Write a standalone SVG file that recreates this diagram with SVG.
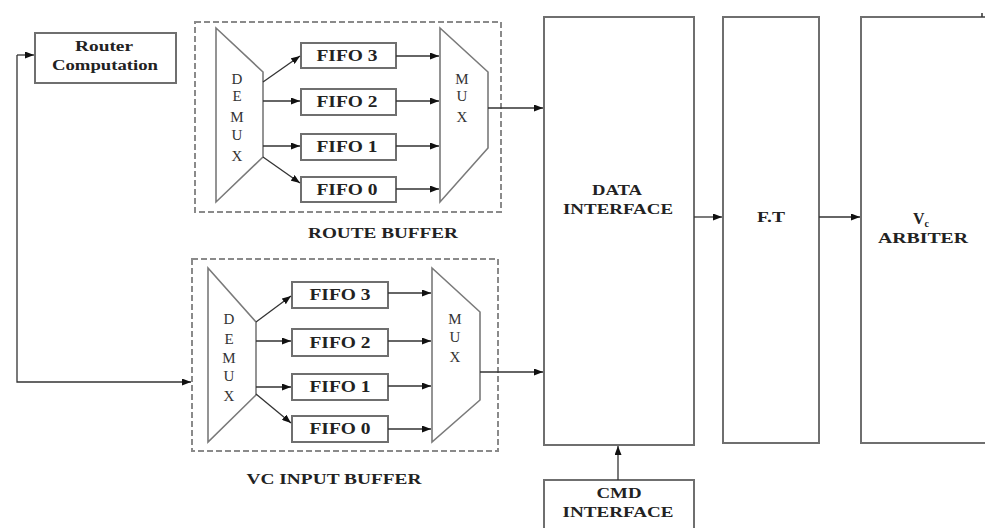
<svg xmlns="http://www.w3.org/2000/svg" width="985" height="528" viewBox="0 0 985 528">
<defs>
<marker id="ah" viewBox="0 0 10 10" refX="10" refY="5" markerWidth="9" markerHeight="7" markerUnits="userSpaceOnUse" orient="auto-start-reverse" preserveAspectRatio="none">
<path d="M0,0 L10,5 L0,10 z" fill="#111"/>
</marker>
<style>
.box{fill:#fff;stroke:#6f6f6f;stroke-width:2}
.dash{fill:none;stroke:#8a8a8a;stroke-width:2;stroke-dasharray:6,3}
.trap{fill:#fff;stroke:#7a7a7a;stroke-width:1.6}
.ca{fill:none;stroke:#333;stroke-width:1.3;marker-end:url(#ah)}
.t{font-family:"Liberation Serif","Times New Roman",serif;font-weight:bold;fill:#222;text-anchor:middle}
.l{font-family:"Liberation Serif","Times New Roman",serif;fill:#333;text-anchor:middle;font-size:15px}
</style>
</defs>
<rect width="985" height="528" fill="#fff"/>

<g id="router-computation">
<rect class="box" x="35" y="33" width="141" height="50"/>
<text class="t" x="104" y="51" font-size="14" textLength="58" lengthAdjust="spacingAndGlyphs">Router</text>
<text class="t" x="105" y="70" font-size="14" textLength="106" lengthAdjust="spacingAndGlyphs">Computation</text>
</g>

<g id="route-buffer">
<rect class="dash" x="195" y="22" width="306" height="190"/>
<text class="t" x="383" y="238" font-size="14" textLength="150" lengthAdjust="spacingAndGlyphs">ROUTE BUFFER</text>
</g>
<g id="route-demux">
<polygon class="trap" points="216,28 263,72 263,157 216,202"/>
<text class="l" x="237" y="84">D</text>
<text class="l" x="237" y="101">E</text>
<text class="l" x="237" y="122">M</text>
<text class="l" x="237" y="140">U</text>
<text class="l" x="237" y="161">X</text>
</g>
<g id="route-fifo3"><rect class="box" x="301" y="43" width="95" height="25"/><text class="t" x="347" y="61" font-size="16" textLength="61" lengthAdjust="spacingAndGlyphs">FIFO 3</text></g>
<g id="route-fifo2"><rect class="box" x="301" y="89" width="95" height="26"/><text class="t" x="347" y="107" font-size="16" textLength="61" lengthAdjust="spacingAndGlyphs">FIFO 2</text></g>
<g id="route-fifo1"><rect class="box" x="301" y="134" width="95" height="26"/><text class="t" x="347" y="152" font-size="16" textLength="61" lengthAdjust="spacingAndGlyphs">FIFO 1</text></g>
<g id="route-fifo0"><rect class="box" x="301" y="177" width="95" height="25"/><text class="t" x="347" y="195" font-size="16" textLength="61" lengthAdjust="spacingAndGlyphs">FIFO 0</text></g>
<g id="route-mux">
<polygon class="trap" points="440,28 488,72 488,148 440,202"/>
<text class="l" x="462" y="84">M</text>
<text class="l" x="462" y="101">U</text>
<text class="l" x="462" y="122">X</text>
</g>

<g id="vc-input-buffer">
<rect class="dash" x="192" y="259" width="306" height="192"/>
<text class="t" x="334" y="484" font-size="14" textLength="175" lengthAdjust="spacingAndGlyphs">VC INPUT BUFFER</text>
</g>
<g id="vc-demux">
<polygon class="trap" points="208,268 256,322 256,395 208,442"/>
<text class="l" x="229" y="324">D</text>
<text class="l" x="229" y="344">E</text>
<text class="l" x="229" y="363">M</text>
<text class="l" x="229" y="381">U</text>
<text class="l" x="229" y="401">X</text>
</g>
<g id="vc-fifo3"><rect class="box" x="292" y="282" width="96" height="26"/><text class="t" x="340" y="300" font-size="16" textLength="61" lengthAdjust="spacingAndGlyphs">FIFO 3</text></g>
<g id="vc-fifo2"><rect class="box" x="292" y="329" width="96" height="27"/><text class="t" x="340" y="348" font-size="16" textLength="61" lengthAdjust="spacingAndGlyphs">FIFO 2</text></g>
<g id="vc-fifo1"><rect class="box" x="292" y="374" width="96" height="26"/><text class="t" x="340" y="392" font-size="16" textLength="61" lengthAdjust="spacingAndGlyphs">FIFO 1</text></g>
<g id="vc-fifo0"><rect class="box" x="292" y="416" width="96" height="26"/><text class="t" x="340" y="434" font-size="16" textLength="61" lengthAdjust="spacingAndGlyphs">FIFO 0</text></g>
<g id="vc-mux">
<polygon class="trap" points="432,268 480,312 480,400 432,442"/>
<text class="l" x="455" y="324">M</text>
<text class="l" x="455" y="342">U</text>
<text class="l" x="455" y="362">X</text>
</g>

<g id="data-interface">
<rect class="box" x="544" y="17" width="150" height="428"/>
<text class="t" x="617" y="195" font-size="14" textLength="50" lengthAdjust="spacingAndGlyphs">DATA</text>
<text class="t" x="618" y="214" font-size="14" textLength="110" lengthAdjust="spacingAndGlyphs">INTERFACE</text>
</g>
<g id="cmd-interface">
<rect class="box" x="544" y="480" width="150" height="60"/>
<text class="t" x="619" y="498" font-size="14" textLength="45" lengthAdjust="spacingAndGlyphs">CMD</text>
<text class="t" x="618" y="517" font-size="14" textLength="111" lengthAdjust="spacingAndGlyphs">INTERFACE</text>
</g>
<g id="ft">
<rect class="box" x="723" y="17" width="96" height="426"/>
<text class="t" x="771" y="222" font-size="14" textLength="28" lengthAdjust="spacingAndGlyphs">F.T</text>
</g>
<g id="vc-arbiter">
<rect class="box" x="861" y="17" width="130" height="426"/>
<line x1="982" y1="13" x2="982" y2="17" stroke="#333" stroke-width="1.5"/>
<text class="t" x="921" y="224" font-size="16">V<tspan font-size="10" dy="3">c</tspan></text>
<text class="t" x="923" y="243" font-size="14" textLength="90" lengthAdjust="spacingAndGlyphs">ARBITER</text>
</g>

<g id="connectors">
<path class="ca" d="M17,55 H34" />
<path class="ca" d="M17,55 V382 H191"/>
<path class="ca" d="M263,82 L300,56"/>
<path class="ca" d="M263,101 H300"/>
<path class="ca" d="M263,146 H300"/>
<path class="ca" d="M263,157 L300,183"/>
<path class="ca" d="M396,56 H439"/>
<path class="ca" d="M396,101 H439"/>
<path class="ca" d="M396,146 H439"/>
<path class="ca" d="M396,189 H439"/>
<path class="ca" d="M488,108 H543"/>
<path class="ca" d="M256,322 L291,296"/>
<path class="ca" d="M256,341 H291"/>
<path class="ca" d="M256,387 H291"/>
<path class="ca" d="M256,394 L291,423"/>
<path class="ca" d="M388,293 H431"/>
<path class="ca" d="M388,341 H431"/>
<path class="ca" d="M388,386 H431"/>
<path class="ca" d="M388,429 H431"/>
<path class="ca" d="M480,372 H543"/>
<path class="ca" d="M618,480 V446"/>
<path class="ca" d="M694,217 H722"/>
<path class="ca" d="M819,217 H860"/>
</g>
</svg>
